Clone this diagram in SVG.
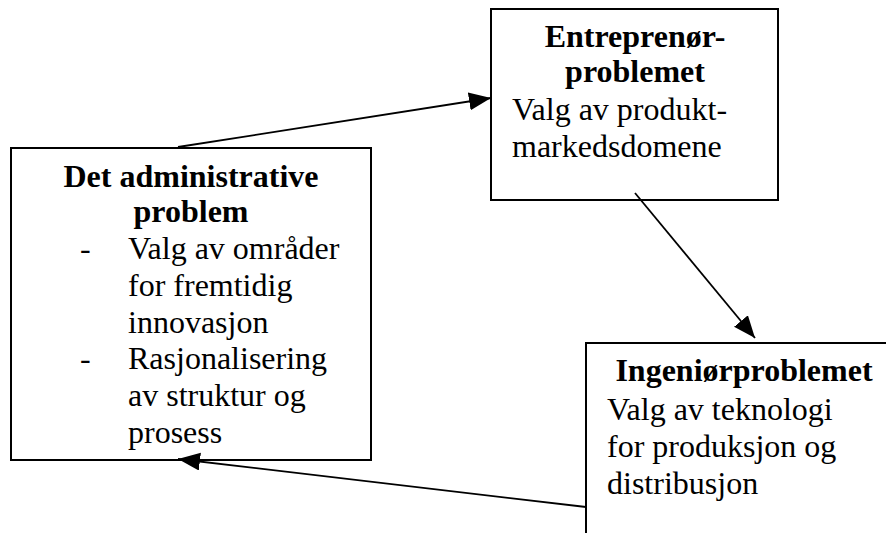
<svg xmlns="http://www.w3.org/2000/svg" width="886" height="533" viewBox="0 0 886 533">
<style>
.box{fill:#fff;stroke:#000;stroke-width:2}
.t{font-family:"Liberation Serif","Times New Roman",serif;font-size:32px;fill:#000}
.b{font-weight:bold;text-anchor:middle}
.c{stroke:#000;stroke-width:1.8;fill:none}
</style>
<defs>
<marker id="ah" markerUnits="userSpaceOnUse" markerWidth="23" markerHeight="19" refX="22" refY="9" orient="auto">
<path d="M0,0 L22,9 L0,18 z" fill="#000"/>
</marker>
</defs>
<rect width="886" height="533" fill="#fff"/>
<g id="admin">
<rect class="box" x="11" y="148" width="360" height="312"/>
<text class="t b" x="191" y="187">Det administrative</text>
<text class="t b" x="191" y="222">problem</text>
<text class="t" x="80" y="259">-</text>
<text class="t" x="128" y="259">Valg av områder</text>
<text class="t" x="128" y="296">for fremtidig</text>
<text class="t" x="128" y="333">innovasjon</text>
<text class="t" x="80" y="369">-</text>
<text class="t" x="128" y="369">Rasjonalisering</text>
<text class="t" x="128" y="406">av struktur og</text>
<text class="t" x="128" y="443">prosess</text>
</g>
<g id="entreprenor">
<rect class="box" x="491" y="9" width="287" height="191"/>
<text class="t b" x="635" y="47">Entreprenør-</text>
<text class="t b" x="635" y="82">problemet</text>
<text class="t" x="512" y="120">Valg av produkt-</text>
<text class="t" x="512" y="157">markedsdomene</text>
</g>
<g id="ingenior">
<rect class="box" x="586" y="343" width="320" height="220"/>
<text class="t b" x="744" y="381">Ingeniørproblemet</text>
<text class="t" x="607" y="420">Valg av teknologi</text>
<text class="t" x="607" y="457">for produksjon og</text>
<text class="t" x="607" y="494">distribusjon</text>
</g>
<g id="connectors">
<line class="c" x1="178" y1="147" x2="491" y2="98" marker-end="url(#ah)"/>
<line class="c" x1="635" y1="193" x2="755" y2="338" marker-end="url(#ah)"/>
<line class="c" x1="586" y1="507" x2="178" y2="459" marker-end="url(#ah)"/>
</g>
</svg>
